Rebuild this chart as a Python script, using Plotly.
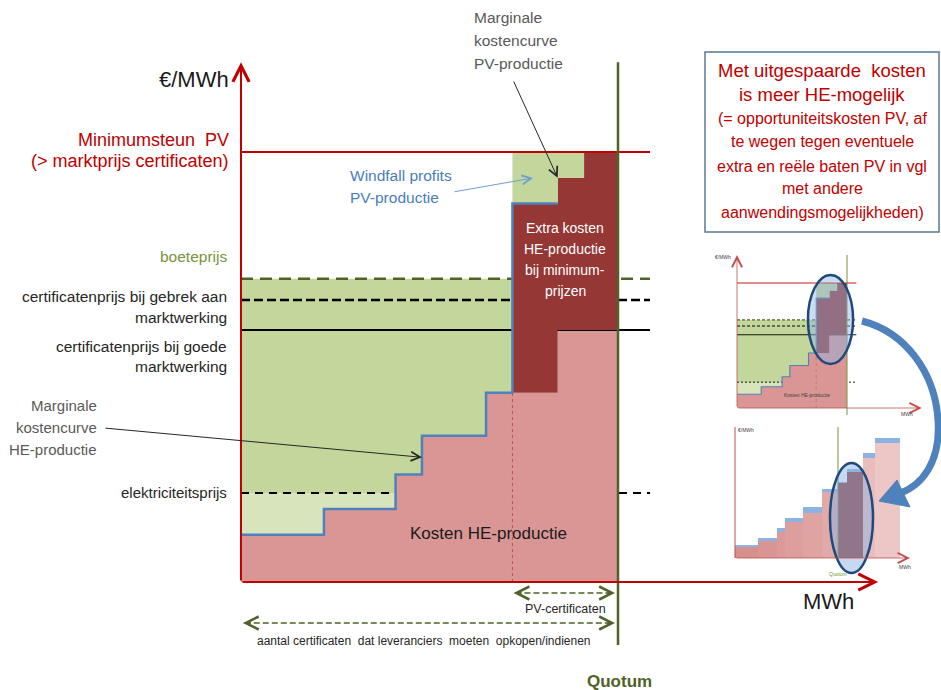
import plotly.graph_objects as go

W, H = 941, 690

# ---------------- data ----------------
# Main diagram: MWh (quotum = 100) and EUR/MWh (minimum support PV = 100)
he_edges = [0, 22, 41, 48, 65, 84, 100]      # HE production blocks (MWh)
he_cost = [11, 17, 25, 34, 44, 58.6]         # marginal cost HE per block
pv_edges = [72, 84, 91, 100]                 # PV production blocks (MWh)
pv_cost = [88, 94, 100]                      # marginal cost PV per block
quotum = 100
pv_start = 72
min_support = 100            # Minimumsteun PV
penalty_price = 70.5         # boeteprijs
cert_price_no_market = 65.6  # certificatenprijs bij gebrek aan marktwerking
cert_price_market = 58.6     # certificatenprijs bij goede marktwerking
electricity_price = 20.7     # elektriciteitsprijs
lines_end = 108.5
y_axis_top = 120.9
x_axis_end = 169

# Thumbnail with bars (second small chart)
t2_edges = [0, 23, 42, 50, 68, 87, 103, 112, 128, 140, 165]
t2_cost = [11, 17, 26, 36, 45, 66, 75, 86, 100, 115]
t2_extra = [2, 3, 4, 4, 6, 3, 1, 3, 5, 5]
t2_quotum = 103
t2_axis_top = 131
t2_axis_end = 175
t2_colors = ['#d78f8d', '#d99593', '#db9a98', '#dd9f9d', '#dfa4a2', '#e1a9a7',
             '#953735', '#953735', '#e8bdbc', '#ecc7c6']

# ---------------- style ----------------
SANS = "Liberation Sans, Arial, sans-serif"
GREEN = '#c3d69b'
LGREEN = '#d8e4bc'
PINK = '#d99694'
DRED = '#953735'
BLUE = '#4f81bd'
RED = '#c00000'
OLIVE = '#4f6228'
DARK = '#262626'

# pixel mappings (origin pixel, px per unit)
MX0, MXS, MY0, MYS = 241, 3.77, 582, 4.3
T1X0, T1XS, T1Y0, T1YS = 737, 1.1, 408, 1.25
T2X0, T2Y0 = 735, 558

fig = go.Figure()
ann = []
shapes = []


def ux(p):
    return (p - MX0) / MXS


def uy(p):
    return (MY0 - p) / MYS


def steps(edges, vals, lo, hi):
    xs, ys = [], []
    for i, v in enumerate(vals):
        a, b = max(edges[i], lo), min(edges[i + 1], hi)
        if b > a:
            xs += [a, b]
            ys += [v, v]
    return xs, ys


def poly(xs, ys, color, xa, ya):
    fig.add_trace(go.Scatter(x=xs + [xs[0]], y=ys + [ys[0]], mode='lines', fill='toself',
                             fillcolor=color, line=dict(width=0, color=color),
                             hoverinfo='skip', xaxis=xa, yaxis=ya))


def line(xs, ys, color, width, xa, ya, dash=None):
    fig.add_trace(go.Scatter(x=xs, y=ys, mode='lines',
                             line=dict(color=color, width=width, dash=dash),
                             hoverinfo='skip', xaxis=xa, yaxis=ya))


def arrow(x0, y0, x1, y1, color, width, head, size, xr='x', yr='y'):
    ann.append(dict(x=x1, y=y1, ax=x0, ay=y0, xref=xr, yref=yr, axref=xr, ayref=yr,
                    showarrow=True, arrowhead=head, arrowsize=size, arrowwidth=width,
                    arrowcolor=color, text='', standoff=0, startstandoff=0))


def txt(s, x, y, size, color=DARK, anchor='center', family=SANS):
    ann.append(dict(text=s, x=x / W, y=1 - y / H, xref='paper', yref='paper',
                    xanchor=anchor, yanchor='middle', showarrow=False,
                    font=dict(size=size, color=color, family=family)))


def diagram(xa, ya, s):
    thin = s < 1
    cx, cy = steps(he_edges, he_cost, 0, pv_start)
    poly(cx + [pv_start, 0], cy + [penalty_price, penalty_price], GREEN, xa, ya)
    ly = [min(v, electricity_price) for v in cy]
    poly(cx + [pv_start, 0], ly + [electricity_price, electricity_price], LGREEN, xa, ya)
    line([0, lines_end], [electricity_price] * 2, '#000000', 2 * s, xa, ya,
         '2px,2px' if thin else '8px,6px')
    px_, py_ = steps(he_edges, he_cost, 0, quotum)
    poly(px_ + [quotum, 0], py_ + [0, 0], PINK, xa, ya)
    line([0, lines_end], [penalty_price] * 2, '#4f6228', 2.5 * s, xa, ya,
         '3px,2px' if thin else '12px,7px')
    line([0, lines_end], [cert_price_no_market] * 2, '#000000', 2.5 * s, xa, ya,
         '3px,2px' if thin else '9px,4px')
    line([0, lines_end], [cert_price_market] * 2, '#000000', 2 * s, xa, ya)
    ux_, uy_ = steps(pv_edges, pv_cost, pv_start, quotum)
    bx, by = steps(he_edges, he_cost, pv_start, quotum)
    poly(ux_ + bx[::-1], uy_ + by[::-1], DRED, xa, ya)
    poly(ux_ + [quotum, pv_start], uy_ + [min_support, min_support], GREEN, xa, ya)
    line(cx + [pv_start, pv_edges[1]], cy + [pv_cost[0], pv_cost[0]], BLUE, 2.5 * s, xa, ya)
    line([pv_start, pv_start], [0, he_cost[4]], '#c0504d', 1 * s, xa, ya, 'dot')
    line([0, lines_end], [min_support] * 2, RED, 2 * s, xa, ya)


# ---------- main diagram ----------
diagram('x', 'y', 1.0)
line([quotum, quotum], [uy(645), y_axis_top], OLIVE, 2.5, 'x', 'y')
arrow(0, 0, 0, y_axis_top, RED, 2, 5, 1.6)
arrow(0, 0, x_axis_end, 0, RED, 2, 5, 1.6)

# dashed double arrows
for (a, b, yy) in [(pv_start + 0.3, quotum - 0.8, uy(593)), (0.5, quotum - 0.8, uy(623))]:
    line([a + 0.5, b - 0.5], [yy, yy], OLIVE, 1.5, 'x', 'y', '6px,3px')
    arrow(a + 2.5, yy, a, yy, OLIVE, 1.5, 5, 1.7)
    arrow(b - 2.5, yy, b, yy, OLIVE, 1.5, 5, 1.7)

# pointer arrows
arrow(ux(104), uy(428), he_edges[3], 29, DARK, 1, 5, 1.8)
arrow(ux(513), uy(80), pv_edges[1], 94, DARK, 1, 5, 1.8)
arrow(ux(453), uy(192), ux(533), uy(178), '#6d9ed6', 1, 5, 1.8)

# ---------- thumbnail 1 (same diagram, small) ----------
diagram('x2', 'y2', 0.45)
line([quotum, quotum], [-5.6, 122.4], '#77933c', 1, 'x2', 'y2')
arrow(0, 0, 0, 122.4, '#c0504d', 0.8, 5, 2.5, 'x2', 'y2')
arrow(0, 0, 168, 0, '#c0504d', 0.8, 5, 2.5, 'x2', 'y2')
shapes.append(dict(type='circle', xref='x2', yref='y2', x0=64.5, x1=105.5, y0=35.2, y1=106.4,
                   fillcolor='rgba(141,180,226,0.45)', line=dict(color='#1f497d', width=2.5)))

# ---------- thumbnail 2 (bars) ----------
t2_mid = [(t2_edges[i] + t2_edges[i + 1]) / 2 for i in range(len(t2_cost))]
t2_w = [t2_edges[i + 1] - t2_edges[i] for i in range(len(t2_cost))]
fig.add_trace(go.Bar(x=t2_mid, y=t2_cost, width=t2_w, base=0, marker=dict(color=t2_colors, line=dict(width=0)),
                     xaxis='x3', yaxis='y3', hoverinfo='skip'))
fig.add_trace(go.Bar(x=t2_mid, y=t2_extra, width=t2_w, base=t2_cost,
                     marker=dict(color='#8db3e2', line=dict(width=0)),
                     xaxis='x3', yaxis='y3', hoverinfo='skip'))
line([t2_quotum, t2_quotum], [0, t2_axis_top], '#77933c', 1, 'x3', 'y3')
line([0, 0], [0, t2_axis_top], '#c0504d', 1, 'x3', 'y3')
arrow(0, 0, t2_axis_end, 0, '#c0504d', 0.8, 5, 2.5, 'x3', 'y3')
shapes.append(dict(type='circle', xref='x3', yref='y3', x0=95, x1=138, y0=-15, y1=95,
                   fillcolor='rgba(141,180,226,0.5)', line=dict(color='#1f497d', width=2.5)))


# ---------- big curved blue arrow ----------
def P(x, y):
    return f"{x / W:.5f},{1 - y / H:.5f}"


shapes.append(dict(type='path', xref='paper', yref='paper',
                   path=f"M {P(862, 321)} C {P(905, 332)} {P(935, 372)} {P(938, 420)} "
                        f"C {P(941, 462)} {P(922, 486)} {P(898, 494)}",
                   line=dict(color=BLUE, width=7)))
shapes.append(dict(type='path', xref='paper', yref='paper',
                   path=f"M {P(879, 501)} L {P(897, 480)} L {P(910, 507)} Z",
                   fillcolor=BLUE, line=dict(color=BLUE, width=1)))

# ---------- text box ----------
shapes.append(dict(type='rect', xref='paper', yref='paper', x0=705 / W, x1=939 / W,
                   y0=1 - 232 / H, y1=1 - 52 / H, line=dict(color='#5b7a92', width=1.5)))

# ---------- texts ----------
txt('€/MWh', 231, 80, 22, '#1a1a1a', 'right')
txt('Minimumsteun&nbsp; PV', 231, 140, 18, RED, 'right')
txt('(&gt; marktprijs certificaten)', 231, 161, 18, RED, 'right')
txt('boeteprijs', 229, 257, 15.5, '#77933c', 'right')
txt('certificatenprijs bij gebrek aan', 229, 297, 15.5, DARK, 'right')
txt('marktwerking', 229, 317, 15.5, DARK, 'right')
txt('certificatenprijs bij goede', 229, 347, 15.5, DARK, 'right')
txt('marktwerking', 229, 366, 15.5, DARK, 'right')
for s, yy in [('Marginale', 405), ('kostencurve', 427), ('HE-productie', 449)]:
    txt(s, 99, yy, 15, '#595959', 'right')
txt('elektriciteitsprijs', 229, 492, 15, DARK, 'right')
txt('Kosten HE-productie', 488, 533, 17, '#1a1a1a')
for s, yy in [('Windfall profits', 175), ('PV-productie', 197)]:
    txt(s, 348, yy, 15.5, '#4a7ebb', 'left')
for s, yy in [('Marginale', 18), ('kostencurve', 41), ('PV-productie', 63)]:
    txt(s, 472, yy, 15.5, '#595959', 'left')
for s, yy in [('Extra kosten', 228), ('HE-productie', 249), ('bij minimum-', 270), ('prijzen', 291)]:
    txt(s, 565, yy, 14, '#ffffff', 'center')
txt('PV-certificaten', 608, 609, 12.5, DARK, 'right')
txt('aantal certificaten&nbsp; dat leveranciers&nbsp; moeten&nbsp; opkopen/indienen', 255, 641, 12, DARK, 'left')
txt('<b>Quotum</b>', 619, 681, 17, OLIVE)
txt('MWh', 828, 601, 22, '#1a1a1a')

box = [('Met uitgespaarde&nbsp; kosten', 70, 18.5), ('is meer HE-mogelijk', 95, 18.5),
       ('(= opportuniteitskosten PV, af', 119, 16), ('te wegen tegen eventuele', 142, 16),
       ('extra en reële baten PV in vgl', 166, 16), ('met andere', 189, 16),
       ('aanwendingsmogelijkheden)', 212, 16)]
for s, yy, sz in box:
    txt(s, 822, yy, sz, RED)

# thumbnail tiny texts
txt('€/MWh', 733, 257, 5, '#404040', 'right')
txt('Kosten HE-productie', 807, 395, 5, '#404040')
txt('MWh', 907, 414, 5, '#404040')
txt('€/MWh', 746, 430, 5, '#404040')
txt('MWh', 905, 567, 5, '#404040')
txt('Quotum', 838, 574, 5, '#77933c')

ax_common = dict(visible=False, fixedrange=True)
fig.update_layout(
    width=W, height=H, margin=dict(l=0, r=0, t=0, b=0),
    paper_bgcolor='white', plot_bgcolor='rgba(0,0,0,0)',
    showlegend=False, hovermode=False, barmode='overlay',
    xaxis=dict(domain=[0, 1], range=[-MX0 / MXS, (W - MX0) / MXS], **ax_common),
    yaxis=dict(domain=[0, 1], range=[-(H - MY0) / MYS, MY0 / MYS], **ax_common),
    xaxis2=dict(domain=[(T1X0 - 10 * T1XS) / W, (T1X0 + 180 * T1XS) / W], range=[-10, 180], anchor='y2', **ax_common),
    yaxis2=dict(domain=[1 - (T1Y0 + 12 * T1YS) / H, 1 - (T1Y0 - 130 * T1YS) / H], range=[-12, 130], anchor='x2', **ax_common),
    xaxis3=dict(domain=[(T2X0 - 5) / W, (T2X0 + 180) / W], range=[-5, 180], anchor='y3', **ax_common),
    yaxis3=dict(domain=[1 - (T2Y0 + 18) / H, 1 - (T2Y0 - 135) / H], range=[-18, 135], anchor='x3', **ax_common),
    annotations=ann, shapes=shapes,
)

fig.write_html("out.html", config={'displayModeBar': False},
               post_script="document.body.style.margin='0';document.body.style.overflow='hidden';")
